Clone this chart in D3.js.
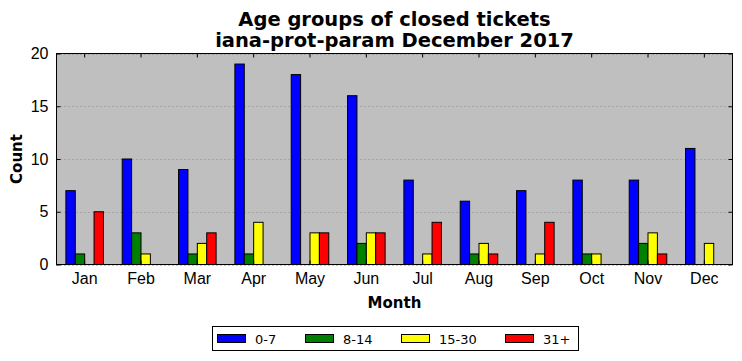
<!DOCTYPE html>
<html><head><meta charset="utf-8">
<script src="https://cdn.jsdelivr.net/npm/d3@7/dist/d3.min.js"></script>
<style>body{margin:0;background:#fff;} svg{display:block;font-family:"DejaVu Sans",sans-serif;}</style>
</head><body>
<script>
const months = ["Jan","Feb","Mar","Apr","May","Jun","Jul","Aug","Sep","Oct","Nov","Dec"];
const seriesNames = ["0-7","8-14","15-30","31+"];
const seriesColors = ["#0000ff","#008000","#ffff00","#ff0000"];
const age0_7   = [7,10,9,19,18,16,8,6,7,8,8,11];
const age8_14  = [1,3,1,1,0,2,0,1,0,1,2,0];
const age15_30 = [0,1,2,4,3,3,1,2,1,1,3,2];
const age31p   = [5,0,3,0,3,3,4,1,4,0,1,0];
const yTicks = [0,5,10,15,20];
const series = [age0_7, age8_14, age15_30, age31p];

const W = 742, H = 361;
const m = {left:56.5, right:732.5, top:53.5, bottom:264.5};
const svg = d3.select("body").append("svg").attr("width",W).attr("height",H);

const x = d3.scaleBand().domain(months).range([m.left,m.right]).padding(0);
const y = d3.scaleLinear().domain([0,20]).range([m.bottom,m.top]);
const bw = x.bandwidth()/6;

svg.append("rect").attr("x",m.left).attr("y",m.top).attr("width",m.right-m.left).attr("height",m.bottom-m.top).attr("fill","#bfbfbf");

// grid
svg.append("g").selectAll("line").data(yTicks).join("line")
  .attr("x1",m.left).attr("x2",m.right).attr("y1",d=>Math.round(y(d))+0.5).attr("y2",d=>Math.round(y(d))+0.5)
  .attr("stroke","#888").attr("stroke-width",1).attr("stroke-dasharray","1,3");

// bars
series.forEach((vals,si)=>{
  svg.append("g").selectAll("rect").data(vals.map((v,i)=>({m:months[i],v}))).join("rect")
    .attr("x",d=>x(d.m)+bw*(si+1))
    .attr("y",d=>y(d.v))
    .attr("width",bw)
    .attr("height",d=>y(0)-y(d.v))
    .attr("fill",seriesColors[si])
    .attr("stroke","#000").attr("stroke-width",d=>d.v>0?1:0.6);
});

// axes
const tickLen = 4;
const yAxis = d3.axisLeft(y).tickValues(yTicks).tickSize(-tickLen).tickPadding(8);
const gy = svg.append("g").attr("transform",`translate(${m.left},0)`).call(yAxis);
gy.select(".domain").remove();
gy.selectAll("text").attr("font-size",16).attr("fill","#000");
const gyr = svg.append("g").attr("transform",`translate(${m.right},0)`).call(d3.axisRight(y).tickValues(yTicks).tickSize(-tickLen).tickFormat(""));
gyr.select(".domain").remove();

const xAxis = d3.axisBottom(x).tickSize(-tickLen).tickPadding(8);
const gx = svg.append("g").attr("transform",`translate(0,${m.bottom})`).call(xAxis);
gx.select(".domain").remove();
gx.selectAll("text").attr("font-size",16).attr("fill","#000");
const gxt = svg.append("g").attr("transform",`translate(0,${m.top})`).call(d3.axisTop(x).tickSize(-tickLen).tickFormat(""));
gxt.select(".domain").remove();

svg.append("rect").attr("x",m.left).attr("y",m.top).attr("width",m.right-m.left).attr("height",m.bottom-m.top)
  .attr("fill","none").attr("stroke","#000").attr("stroke-width",1);

// labels
svg.append("text").attr("x",(m.left+m.right)/2).attr("y",26).attr("text-anchor","middle")
  .attr("font-size",19.5).attr("font-weight","bold").text("Age groups of closed tickets");
svg.append("text").attr("x",(m.left+m.right)/2).attr("y",47).attr("text-anchor","middle")
  .attr("font-size",19.5).attr("font-weight","bold").text("iana-prot-param December 2017");
svg.append("text").attr("x",(m.left+m.right)/2).attr("y",308).attr("text-anchor","middle")
  .attr("font-size",15).attr("font-weight","bold").text("Month");
svg.append("text").attr("transform",`translate(22,${(m.top+m.bottom)/2}) rotate(-90)`).attr("text-anchor","middle")
  .attr("font-size",15).attr("font-weight","bold").text("Count");

// legend
const lg = svg.append("g");
lg.append("rect").attr("x",212.5).attr("y",326.5).attr("width",366).attr("height",24).attr("fill","#fff").attr("stroke","#000");
const lx = [217,305,401,505];
seriesNames.forEach((n,i)=>{
  lg.append("rect").attr("x",lx[i]+0.5).attr("y",334.5).attr("width",28).attr("height",8).attr("fill",seriesColors[i]).attr("stroke","#000");
  lg.append("text").attr("x",lx[i]+38).attr("y",343.5).attr("font-size",13).text(n);
});
</script>
</body></html>
